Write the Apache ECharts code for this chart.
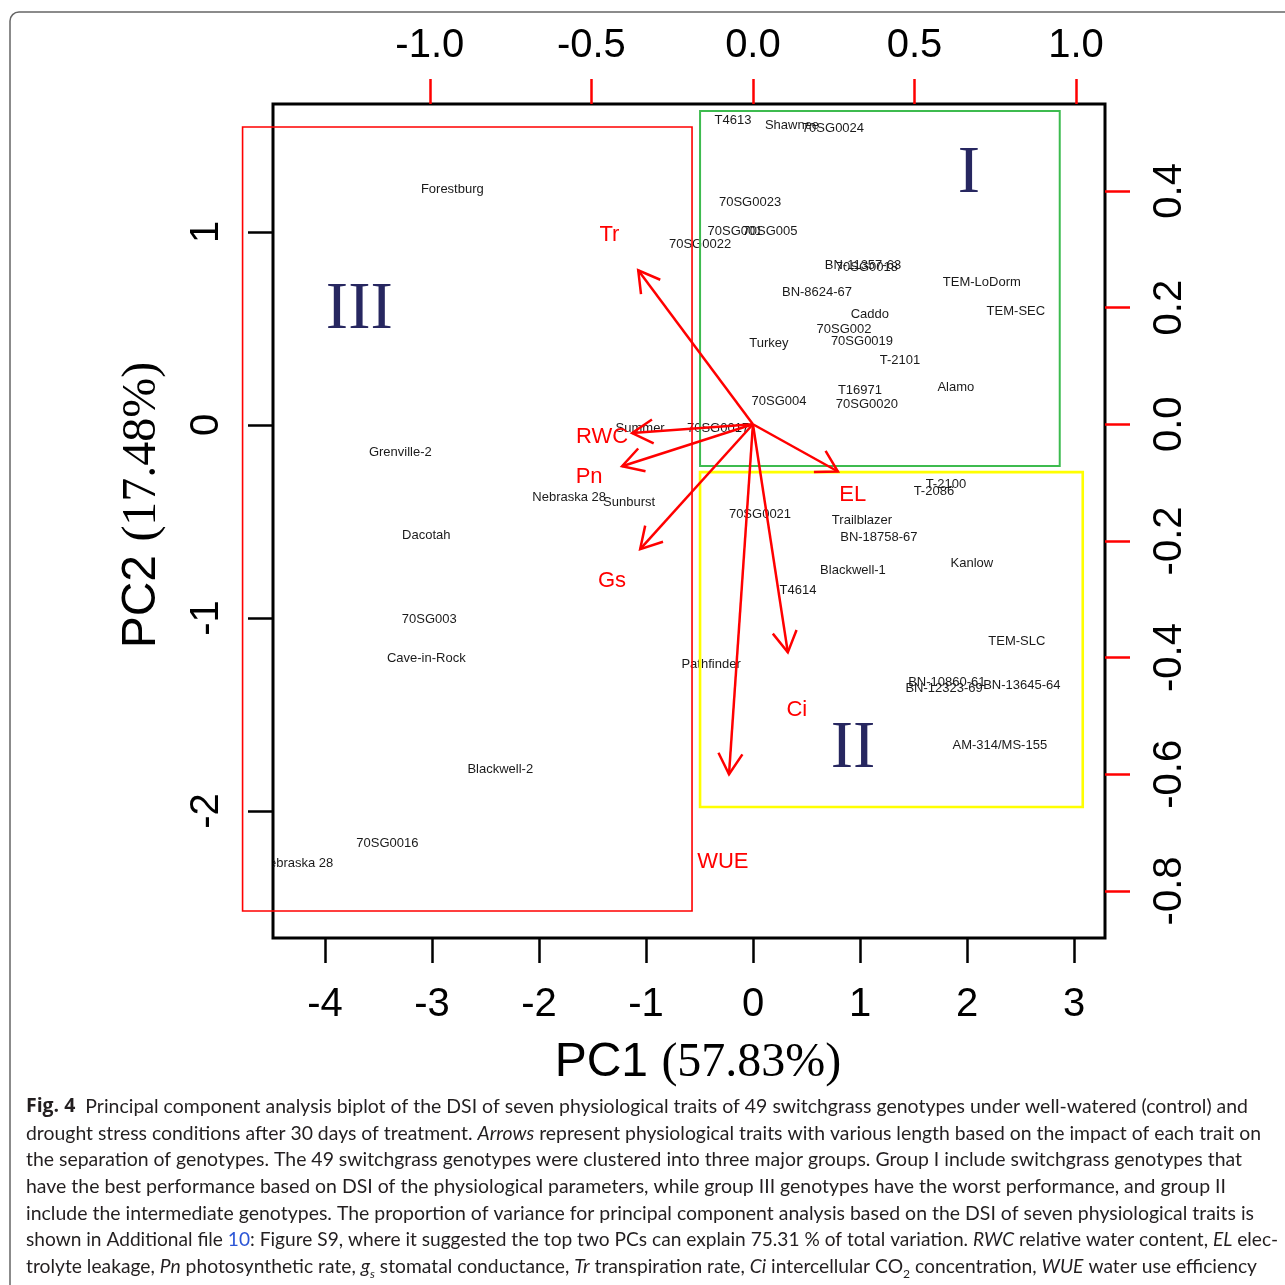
<!DOCTYPE html>
<html><head><meta charset="utf-8">
<script src="https://cdn.jsdelivr.net/npm/echarts@6/dist/echarts.min.js"></script>
<style>html,body{margin:0;padding:0;background:#fff}#c{width:1285px;height:1285px}</style>
</head><body><div id="c"></div>
<script>
// ---------------- DATA ----------------
const genotypes = ['T4613','Shawnee','70SG0024','70SG0023','70SG001','70SG005','70SG0022','BN-11357-63','70SG0018','BN-8624-67',
  'TEM-LoDorm','TEM-SEC','Caddo','70SG002','70SG0019','Turkey','T-2101','Alamo','T16971','70SG0020',
  '70SG004','70SG0017','Summer','T-2100','T-2086','70SG0021','Trailblazer','BN-18758-67','Blackwell-1','Kanlow',
  'T4614','TEM-SLC','Pathfinder','BN-10860-61','BN-12323-69','BN-13645-64','AM-314/MS-155','Nebraska 28','Sunburst','Grenville-2',
  'Dacotah','70SG003','Cave-in-Rock','Blackwell-2','70SG0016','Nebraska 28','Forestburg'];
const pc1 = [-0.187,0.364,0.747,-0.028,-0.168,0.159,-0.495,1.027,1.064,0.598,
  2.138,2.456,1.092,0.850,1.018,0.149,1.373,1.895,0.999,1.064,
  0.243,-0.327,-1.055,1.802,1.690,0.065,1.018,1.176,0.934,2.045,
  0.420,2.465,-0.392,1.811,1.785,2.512,2.306,-1.718,-1.158,-3.296,
  -3.053,-3.025,-3.053,-2.362,-3.417,-4.267,-2.810];
const pc2 = [1.580,1.554,1.539,1.155,1.005,1.005,0.938,0.829,0.819,0.689,
  0.741,0.591,0.575,0.497,0.435,0.425,0.337,0.197,0.181,0.109,
  0.124,-0.016,-0.016,-0.306,-0.342,-0.461,-0.492,-0.585,-0.756,-0.715,
  -0.855,-1.119,-1.238,-1.332,-1.363,-1.347,-1.658,-0.373,-0.399,-0.140,
  -0.570,-1.005,-1.207,-1.782,-2.166,-2.269,1.223];

const traits = ['Tr','RWC','Pn','Gs','EL','Ci','WUE'];
const arrowTipX = [-0.355,-0.374,-0.405,-0.349,0.263,0.108,-0.074];
const arrowTipY = [0.264,-0.015,-0.072,-0.214,-0.081,-0.391,-0.600];
const traitLabelX = [-0.444,-0.467,-0.507,-0.436,0.309,0.136,-0.093];
const traitLabelY = [0.325,-0.022,-0.091,-0.269,-0.122,-0.489,-0.751];

const groupNames = ['I','II','III'];
const groupX = [2.017,0.934,-3.679];
const groupY = [1.300,-1.683,0.596];

// group boxes (PC1/PC2 units): III, I, II
const boxX0 = [-4.77,-0.495,-0.495];
const boxX1 = [-0.57,2.866,3.081];
const boxY0 = [-2.518,-0.212,-1.979];
const boxY1 = [1.544,1.627,-0.244];

const pc1Ticks = [-4,-3,-2,-1,0,1,2,3];
const pc2Ticks = [-2,-1,0,1];
const loadXTicks = [-1.0,-0.5,0.0,0.5,1.0];
const loadYTicks = [-0.8,-0.6,-0.4,-0.2,0.0,0.2,0.4];

// ---------------- STYLE ----------------
const boxColors = ['#ff0000','#3dbb4f','#ffff00'];
const boxWidths = [1.6,2,2.6];
const RED = '#ff0000';
const SANS = 'Liberation Sans';
const SERIF = 'Liberation Serif';

const chart = echarts.init(document.getElementById('c'), null, {renderer:'canvas'});

// caption
const capFont = 'Lato';
const capSize = 19;
const capLines = [
  [['Fig. 4','b'],['  Principal component analysis biplot of the DSI of seven physiological traits of 49 switchgrass genotypes under well-watered (control) and','n']],
  [['drought stress conditions after 30 days of treatment. ','n'],['Arrows','i'],[' represent physiological traits with various length based on the impact of each trait on','n']],
  [['the separation of genotypes. The 49 switchgrass genotypes were clustered into three major groups. Group I include switchgrass genotypes that','n']],
  [['have the best performance based on DSI of the physiological parameters, while group III genotypes have the worst performance, and group II','n']],
  [['include the intermediate genotypes. The proportion of variance for principal component analysis based on the DSI of seven physiological traits is','n']],
  [['shown in Additional file ','n'],['10','blue'],[': Figure S9, where it suggested the top two PCs can explain 75.31 % of total variation. ','n'],['RWC','i'],[' relative water content, ','n'],['EL','i'],[' elec-','n']],
  [['trolyte leakage, ','n'],['Pn','i'],[' photosynthetic rate, ','n'],['g','i'],['s','sub'],[' stomatal conductance, ','n'],['Tr','i'],[' transpiration rate, ','n'],['Ci','i'],[' intercellular CO','n'],['2','sub2'],[' concentration, ','n'],['WUE','i'],[' water use efficiency','n']]
];
const capRight = [1248,1261,1242,1226,1254,1278,1257];
const capY = [1107,1134,1160,1187,1214,1240,1267];
const capLeft = 26;
const capStyles = {
  n:{fontStyle:'normal',fontWeight:'normal',fontSize:capSize},
  b:{fontStyle:'normal',fontWeight:'bold',fontSize:capSize,family:'Open Sans'},
  i:{fontStyle:'italic',fontWeight:'normal',fontSize:capSize},
  blue:{fontStyle:'normal',fontWeight:'normal',fontSize:capSize,fill:'#2b55d6'},
  sub:{fontStyle:'italic',fontWeight:'normal',fontSize:12,verticalAlign:'bottom',lineHeight:12},
  sub2:{fontStyle:'normal',fontWeight:'normal',fontSize:12,verticalAlign:'bottom',lineHeight:12}
};
const mctx = document.createElement('canvas').getContext('2d');
function segWidth(t, s){
  const st = capStyles[s];
  mctx.font = `${st.fontStyle} ${st.fontWeight} ${st.fontSize}px "${st.family || capFont}"`;
  return mctx.measureText(t).width;
}
const rich = {};
Object.keys(capStyles).forEach(k=>{
  const st = capStyles[k];
  rich[k] = {fontFamily:st.family || capFont, fontSize:st.fontSize, fontStyle:st.fontStyle, fontWeight:st.fontWeight,
    fill: st.fill || '#231f20', lineHeight: st.lineHeight || 26, verticalAlign: st.verticalAlign || 'middle'};
});
const captionEls = capLines.map((segs, li)=>{
  let w = 0;
  segs.forEach(([t,s])=>{ w += segWidth(t,s); });
  const sx = (capRight[li]-capLeft)/w;
  const txt = segs.map(([t,s])=>`{${s}|${t}}`).join('');
  return {type:'text', x:capLeft, y:capY[li], scaleX:sx, scaleY:1, silent:true,
    style:{text:txt, rich:rich, fontFamily:capFont, fontSize:capSize, fill:'#231f20', align:'left', verticalAlign:'middle'}};
});

const nameRich = {a:{fontFamily:SANS,fontSize:48,lineHeight:50,color:'#000'}, b:{fontFamily:SERIF,fontSize:48,lineHeight:50,color:'#000'}};

const option = {
  animation:false,
  backgroundColor:'#ffffff',
  grid:{left:273, right:180, top:104, bottom:347, show:true, borderColor:'#000', borderWidth:3, backgroundColor:'transparent', containLabel:false},
  xAxis:[
    {type:'value', position:'bottom', min:-4.4857, max:3.289,
      axisLine:{show:false, onZero:false}, splitLine:{show:false},
      axisTick:{show:true, length:25, lineStyle:{color:'#000', width:2.5}, customValues:pc1Ticks},
      axisLabel:{customValues:pc1Ticks, fontSize:40, lineHeight:40, fontFamily:SANS, color:'#000', margin:47},
      name:'{a|PC1 }{b|(57.83%)}', nameLocation:'middle', nameGap:100,
      nameTextStyle:{padding:[0,0,0,18], rich:nameRich}
    },
    {type:'value', position:'top', min:-1.4853, max:1.0896,
      axisLine:{show:false, onZero:false}, splitLine:{show:false},
      axisTick:{show:true, length:25, lineStyle:{color:RED, width:2.5}, customValues:loadXTicks},
      axisLabel:{customValues:loadXTicks, fontSize:40, lineHeight:40, fontFamily:SANS, color:'#000', margin:38, formatter:v=>v.toFixed(1)}
    }
  ],
  yAxis:[
    {type:'value', position:'left', min:-2.658, max:1.6632,
      axisLine:{show:false, onZero:false}, splitLine:{show:false},
      axisTick:{show:true, length:25, lineStyle:{color:'#000', width:2.5}, customValues:pc2Ticks},
      axisLabel:{customValues:pc2Ticks, rotate:90, fontSize:40, lineHeight:40, fontFamily:SANS, color:'#000', margin:46},
      name:'{a|PC2 }{b|(17.48%)}', nameLocation:'middle', nameGap:106,
      nameTextStyle:{padding:[0,0,0,32], rich:nameRich}
    },
    {type:'value', position:'right', min:-0.8807, max:0.549,
      axisLine:{show:false, onZero:false}, splitLine:{show:false},
      axisTick:{show:true, length:25, lineStyle:{color:RED, width:2.5}, customValues:loadYTicks},
      axisLabel:{customValues:loadYTicks, rotate:90, fontSize:40, lineHeight:40, fontFamily:SANS, color:'#000', margin:45, formatter:v=>v.toFixed(1)}
    }
  ],
  graphic:[
    {type:'rect', silent:true, z:-10, shape:{x:10, y:12, width:1400, height:1400, r:9}, style:{fill:null, stroke:'#666', lineWidth:1.5}}
  ].concat(captionEls),
  series:[
    { // genotype labels
      type:'custom', xAxisIndex:0, yAxisIndex:0, clip:true, z:3,
      data: pc1.map((x,i)=>[x, pc2[i]]), encode:{x:0, y:1},
      renderItem:(params, api)=>{
        const p = api.coord([api.value(0), api.value(1)]);
        return {type:'text', x:p[0], y:p[1], style:{text:genotypes[params.dataIndex], fill:'#1a1a1a', fontSize:13, fontFamily:SANS, align:'center', verticalAlign:'middle'}};
      }
    },
    { // group boxes
      type:'custom', xAxisIndex:0, yAxisIndex:0, clip:false, z:4,
      data: boxX0.map((x,i)=>[x, boxX1[i], boxY0[i], boxY1[i]]), encode:{x:[0,1], y:[2,3]},
      renderItem:(params, api)=>{
        const a = api.coord([api.value(0), api.value(3)]);
        const b = api.coord([api.value(1), api.value(2)]);
        const i = params.dataIndex;
        return {type:'rect', shape:{x:a[0], y:a[1], width:b[0]-a[0], height:b[1]-a[1]}, style:{fill:null, stroke:boxColors[i], lineWidth:boxWidths[i]}};
      }
    },
    { // group roman numerals
      type:'custom', xAxisIndex:0, yAxisIndex:0, clip:false, z:4,
      data: groupX.map((x,i)=>[x, groupY[i]]), encode:{x:0, y:1},
      renderItem:(params, api)=>{
        const p = api.coord([api.value(0), api.value(1)]);
        return {type:'text', x:p[0], y:p[1], style:{text:groupNames[params.dataIndex], fill:'#272760', fontSize:67, fontFamily:SERIF, align:'center', verticalAlign:'middle'}};
      }
    },
    { // trait arrows
      type:'custom', xAxisIndex:1, yAxisIndex:1, clip:false, z:5,
      data: arrowTipX.map((x,i)=>[x, arrowTipY[i], traitLabelX[i], traitLabelY[i]]), encode:{x:0, y:1},
      renderItem:(params, api)=>{
        const o = api.coord([0,0]);
        const t = api.coord([api.value(0), api.value(1)]);
        const l = api.coord([api.value(2), api.value(3)]);
        const ang = Math.atan2(t[1]-o[1], t[0]-o[0]);
        const L = 24, A = Math.PI/6;
        const h1 = [t[0]-L*Math.cos(ang-A), t[1]-L*Math.sin(ang-A)];
        const h2 = [t[0]-L*Math.cos(ang+A), t[1]-L*Math.sin(ang+A)];
        return {type:'group', children:[
          {type:'line', shape:{x1:o[0], y1:o[1], x2:t[0], y2:t[1]}, style:{stroke:RED, lineWidth:2.5}},
          {type:'polyline', shape:{points:[h1, t, h2]}, style:{stroke:RED, lineWidth:2.5, fill:null}},
          {type:'text', x:l[0], y:l[1], style:{text:traits[params.dataIndex], fill:RED, fontSize:22, fontFamily:SANS, align:'center', verticalAlign:'middle'}}
        ]};
      }
    }
  ]
};
chart.setOption(option);
</script></body></html>
